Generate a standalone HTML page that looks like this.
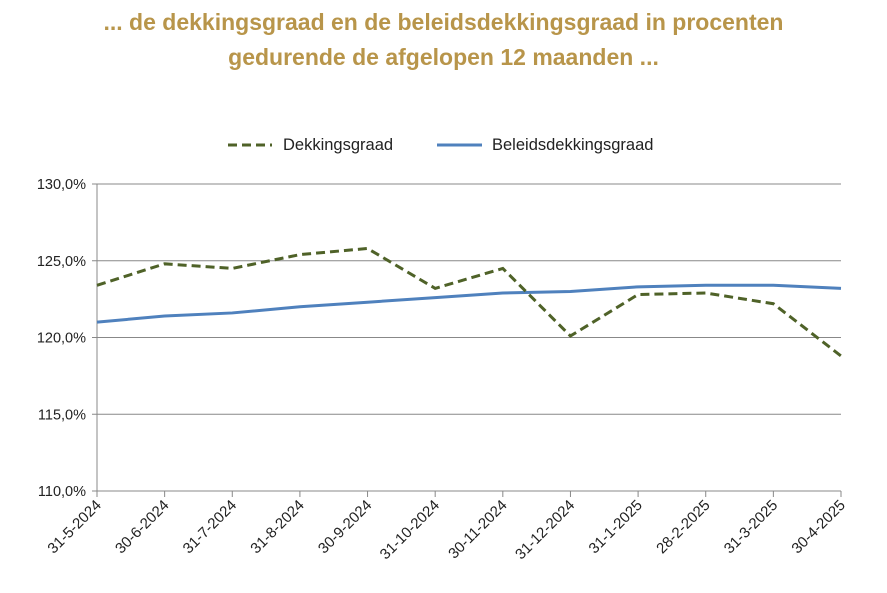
<!DOCTYPE html>
<html><head><meta charset="utf-8"><style>
body{margin:0;background:#fff;width:887px;height:593px;overflow:hidden;font-family:"Liberation Sans",sans-serif}
.t{position:absolute;left:0;width:887px;text-align:center;color:#B8954A;font-weight:bold;font-size:23px}
</style></head><body>
<div class="t" style="top:5px;line-height:35px">... de dekkingsgraad en de beleidsdekkingsgraad in procenten<br>gedurende de afgelopen 12 maanden ...</div>
<svg id="c" width="887" height="593" style="position:absolute;left:0;top:0"></svg>
<script>
const categories=["31-5-2024","30-6-2024","31-7-2024","31-8-2024","30-9-2024","31-10-2024","30-11-2024","31-12-2024","31-1-2025","28-2-2025","31-3-2025","30-4-2025"];
const dekkingsgraad=[123.4,124.8,124.5,125.4,125.8,123.2,124.5,120.1,122.8,122.9,122.2,118.8];
const beleidsdekkingsgraad=[121.0,121.4,121.6,122.0,122.3,122.6,122.9,123.0,123.3,123.4,123.4,123.2];
const yTicks=[110,115,120,125,130];
const yTickLabels=["110,0%","115,0%","120,0%","125,0%","130,0%"];
const svg=document.getElementById('c');const NS="http://www.w3.org/2000/svg";
const X0=97,X1=841,Y0=491,Y1=184,ymin=110,ymax=130;
const x=i=>X0+i*(X1-X0)/(categories.length-1);
const y=v=>Y0-(v-ymin)/(ymax-ymin)*(Y0-Y1);
function mk(t,a,txt){const e=document.createElementNS(NS,t);for(const k in a)e.setAttribute(k,a[k]);if(txt!==undefined)e.textContent=txt;svg.appendChild(e);return e;}
yTicks.forEach((v,i)=>{
 const g=mk('line',{x1:X0-5,x2:X1,y1:y(v),y2:y(v),stroke:'#888','stroke-width':1});
 
 
 const t=mk('text',{x:86,y:y(v)+5,'text-anchor':'end','font-size':14.5,fill:'#222'},yTickLabels[i]);
 
 
});
const ya=mk('line',{x1:X0,x2:X0,y1:Y1,y2:Y0,stroke:'#888'});


categories.forEach((c,i)=>{
 const tk=mk('line',{x1:x(i),x2:x(i),y1:Y0,y2:Y0+6,stroke:'#888'});
 
 
 const t=mk('text',{x:x(i)+5,y:Y0+15,'text-anchor':'end','font-size':15,fill:'#222',transform:`rotate(-45 ${x(i)+5} ${Y0+15})`},c);
 
 
});
const pb=mk('polyline',{points:beleidsdekkingsgraad.map((v,i)=>x(i)+','+y(v)).join(' '),fill:'none',stroke:'#4F81BD','stroke-width':3});


const pd=mk('polyline',{points:dekkingsgraad.map((v,i)=>x(i)+','+y(v)).join(' '),fill:'none',stroke:'#4F6228','stroke-width':3,'stroke-dasharray':'9 5'});


const l1=mk('line',{x1:228,x2:272,y1:145,y2:145,stroke:'#4F6228','stroke-width':3,'stroke-dasharray':'9 5'});


const lt1=mk('text',{x:283,y:150,'font-size':16.5,fill:'#222'},'Dekkingsgraad');


const l2=mk('line',{x1:437,x2:482,y1:145,y2:145,stroke:'#4F81BD','stroke-width':3});


const lt2=mk('text',{x:492,y:150,'font-size':16.5,fill:'#222'},'Beleidsdekkingsgraad');


</script>
</body></html>
